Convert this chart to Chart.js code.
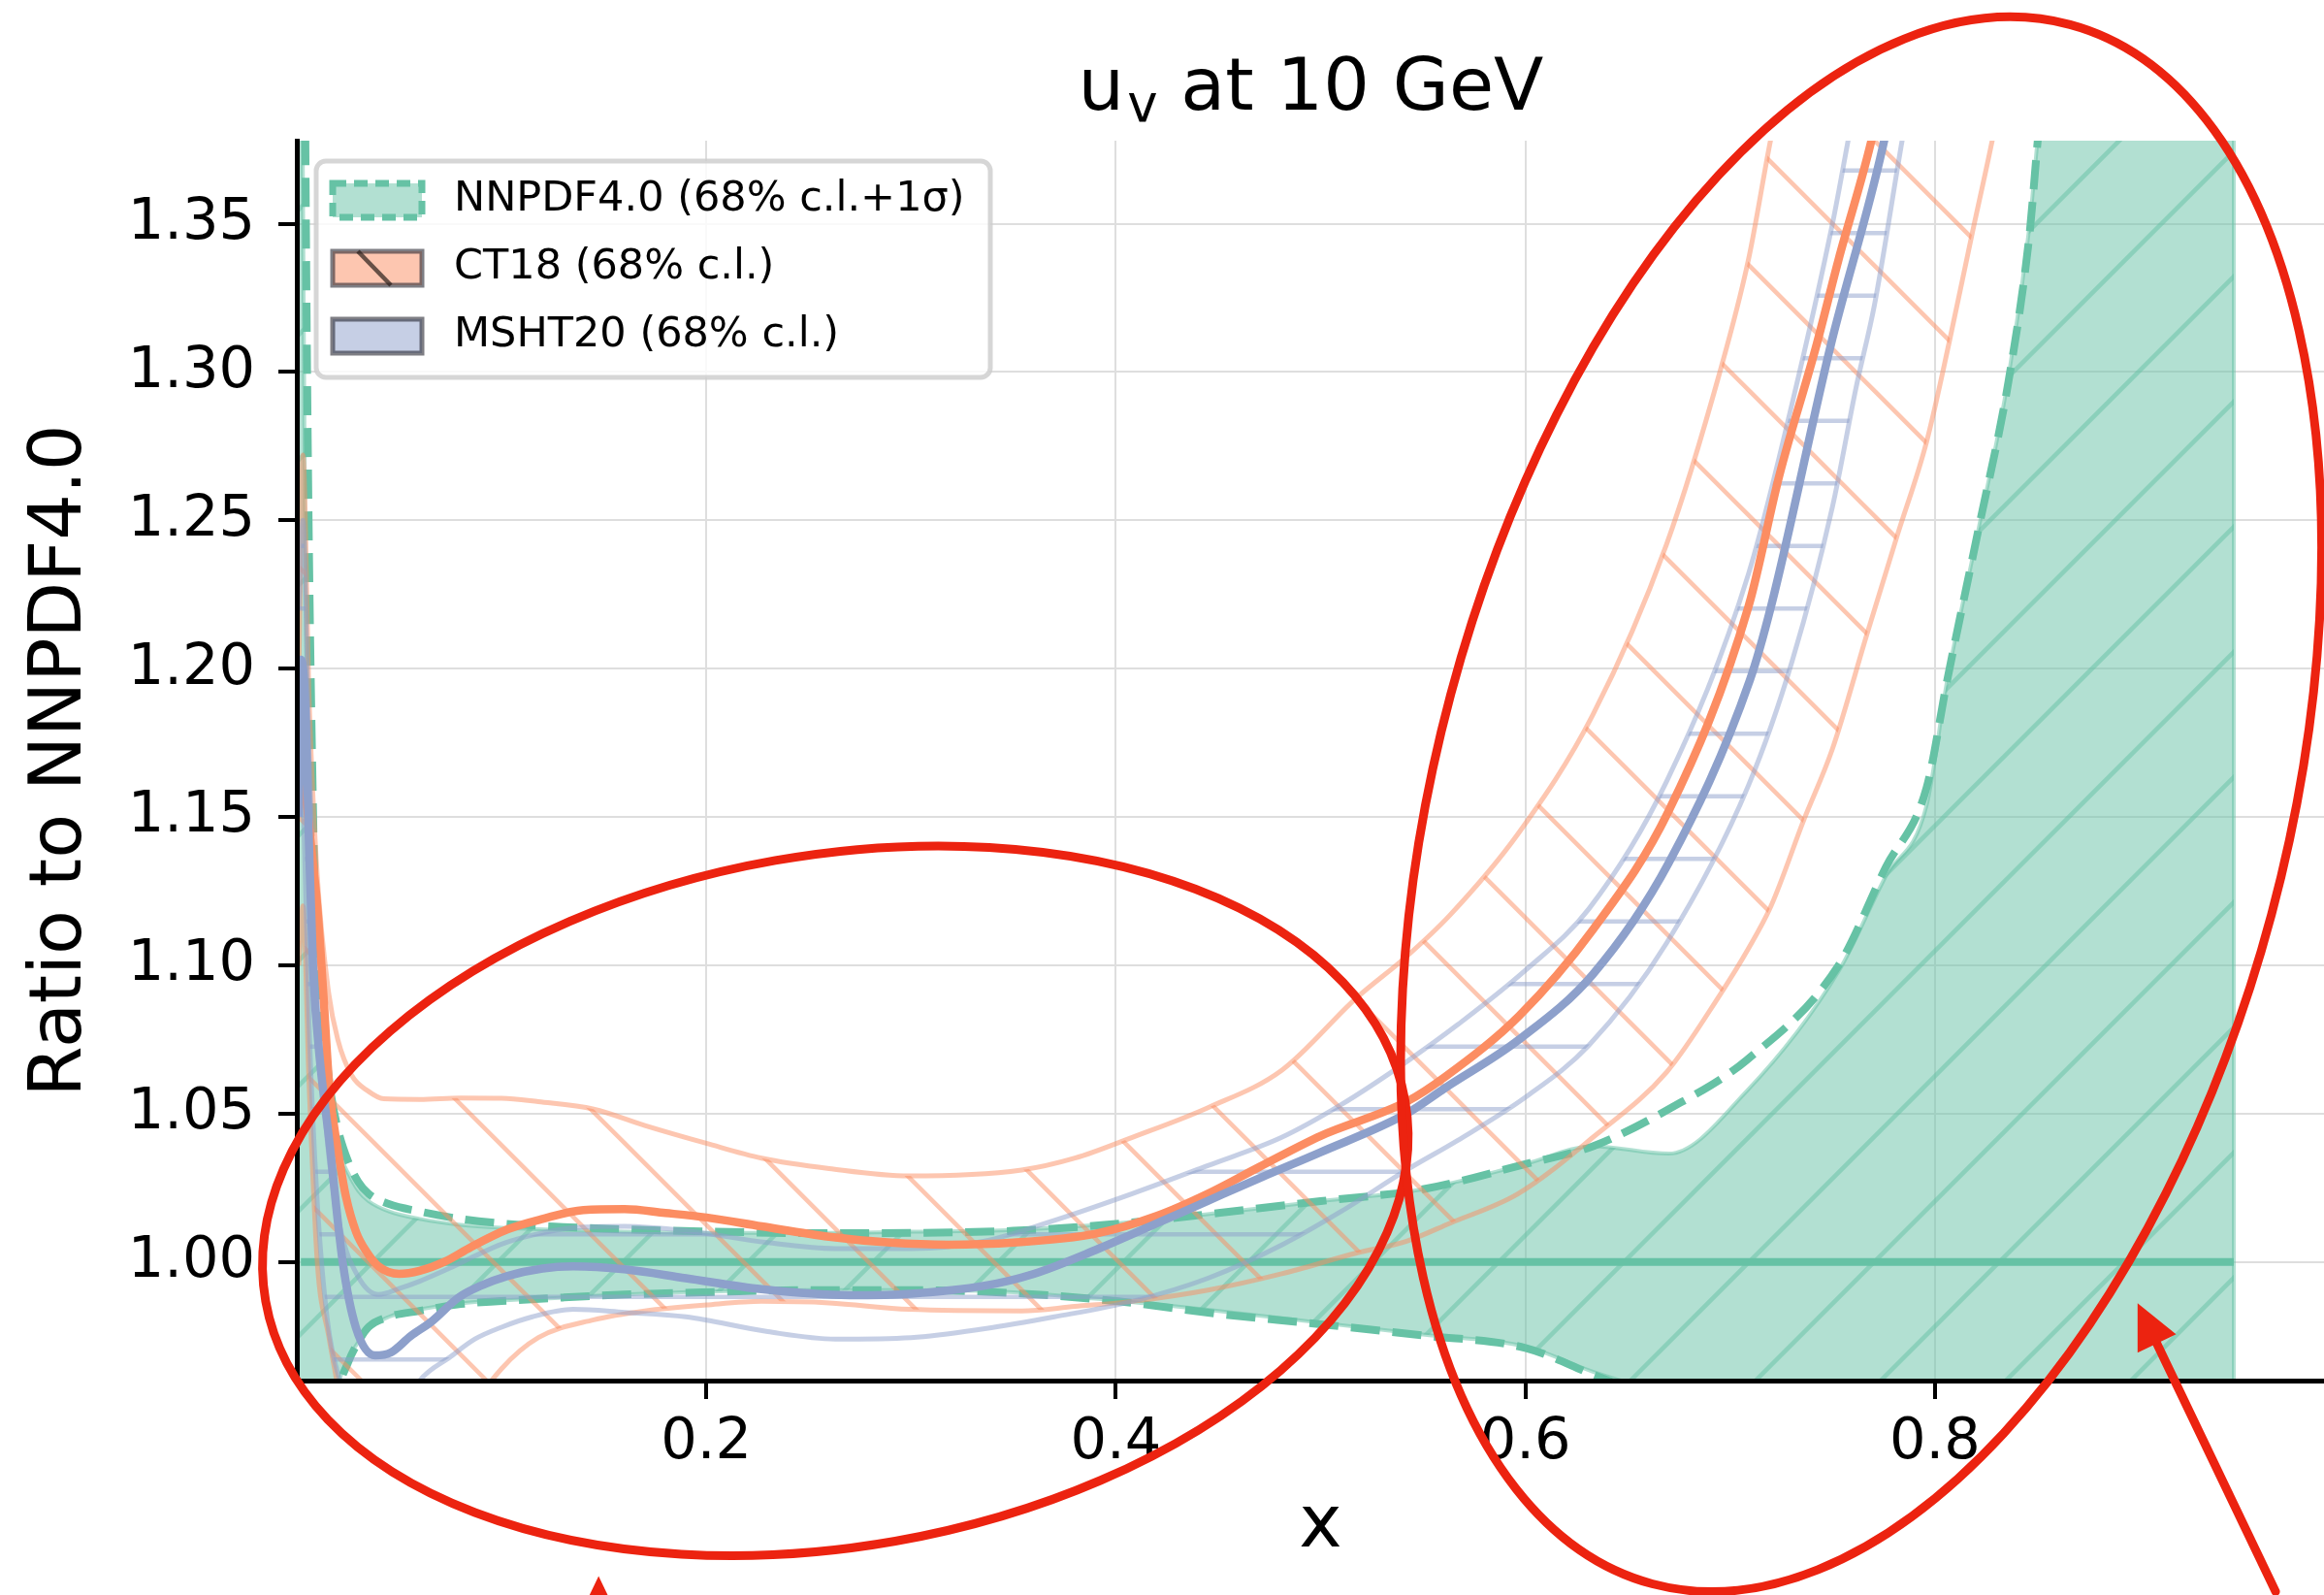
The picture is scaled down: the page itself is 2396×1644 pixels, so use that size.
<!DOCTYPE html>
<html>
<head>
<meta charset="utf-8">
<title>u_v at 10 GeV</title>
<script src="https://cdn.jsdelivr.net/npm/chart.js@4.4.1/dist/chart.umd.min.js"></script>
<style>
  html, body { margin: 0; padding: 0; background: #fff; overflow: hidden; }
  canvas { display: block; }
</style>
</head>
<body>
<canvas id="ratio-chart" width="2440" height="1644"></canvas>
<script>
// NNPDF4.0: 68% c.l. band (filled) and 1 sigma band (dashed), same x grid
const nnX = [0.001, 0.004, 0.008, 0.012, 0.016, 0.02, 0.025, 0.03, 0.035, 0.045, 0.06, 0.08, 0.1, 0.13, 0.16, 0.2, 0.25, 0.3, 0.35, 0.4, 0.45, 0.5, 0.55, 0.6, 0.633, 0.67, 0.708, 0.753, 0.776, 0.796, 0.806, 0.821, 0.836, 0.846, 0.852, 0.87, 0.9, 0.946];
const nnUp = [1.6, 1.25, 1.11, 1.07, 1.05, 1.038, 1.03, 1.024, 1.0205, 1.017, 1.0145, 1.0125, 1.0115, 1.0108, 1.0102, 1.0098, 1.0098, 1.0102, 1.0108, 1.013, 1.0165, 1.0205, 1.0245, 1.033, 1.039, 1.0365, 1.0575, 1.098, 1.13, 1.154, 1.196, 1.246, 1.2985, 1.348, 1.39, 1.45, 1.5, 1.55];
const nnLo = [0.5, 0.7, 0.85, 0.91, 0.94, 0.958, 0.967, 0.973, 0.9775, 0.9815, 0.984, 0.986, 0.987, 0.988, 0.989, 0.99, 0.9905, 0.9905, 0.9898, 0.987, 0.9835, 0.9795, 0.9755, 0.9715, 0.963, 0.955, 0.945, 0.93, 0.92, 0.91, 0.905, 0.9, 0.895, 0.89, 0.888, 0.88, 0.87, 0.85];
const sigUp = [1.9, 1.4, 1.15, 1.09, 1.06, 1.045, 1.034, 1.027, 1.023, 1.0195, 1.017, 1.0145, 1.013, 1.0118, 1.011, 1.0103, 1.0097, 1.0098, 1.0105, 1.0128, 1.0165, 1.0205, 1.0245, 1.033, 1.039, 1.0515, 1.068, 1.10, 1.133, 1.16, 1.196, 1.246, 1.297, 1.345, 1.39, 1.45, 1.5, 1.55];
const sigLo = [0.4, 0.6, 0.8, 0.89, 0.93, 0.955, 0.966, 0.973, 0.978, 0.9815, 0.9835, 0.9858, 0.9868, 0.988, 0.989, 0.9898, 0.9905, 0.9905, 0.9895, 0.9868, 0.9825, 0.979, 0.9752, 0.971, 0.962, 0.952, 0.94, 0.925, 0.915, 0.905, 0.9, 0.895, 0.89, 0.885, 0.882, 0.875, 0.865, 0.845];
const nnCx = [0.002, 0.946];
const nnC = [1.0, 1.0];

// CT18 central value and 68% c.l. band
const ctX = [0.002, 0.004, 0.007, 0.01, 0.013, 0.016, 0.02, 0.024, 0.029, 0.034, 0.04, 0.05, 0.06, 0.072, 0.085, 0.103, 0.12, 0.14, 0.16, 0.18, 0.2, 0.227, 0.26, 0.29, 0.318, 0.35, 0.39, 0.42, 0.445, 0.47, 0.5, 0.542, 0.561, 0.597, 0.633, 0.67, 0.709, 0.724, 0.742, 0.753, 0.769, 0.785];
const ctC = [1.17, 1.16, 1.14, 1.12, 1.09, 1.058, 1.038, 1.022, 1.010, 1.0035, 0.9985, 0.996, 0.997, 1.0, 1.005, 1.011, 1.0145, 1.0175, 1.0178, 1.0165, 1.015, 1.012, 1.0085, 1.0065, 1.0058, 1.0065, 1.0095, 1.0155, 1.023, 1.032, 1.0425, 1.054, 1.0625, 1.083, 1.112, 1.152, 1.221, 1.265, 1.3086, 1.338, 1.378, 1.43];
const ctbX = [0.001, 0.003, 0.006, 0.01, 0.0156, 0.02, 0.0267, 0.035, 0.0425, 0.06, 0.08, 0.1, 0.118, 0.145, 0.17, 0.2, 0.227, 0.26, 0.299, 0.354, 0.38, 0.408, 0.445, 0.481, 0.5175, 0.542, 0.563, 0.5965, 0.633, 0.669, 0.695, 0.709, 0.72, 0.736, 0.75, 0.767, 0.7815, 0.796, 0.807, 0.8177, 0.828, 0.84];
const ctUp = [1.2, 1.272, 1.19, 1.13, 1.0905, 1.075, 1.063, 1.0575, 1.055, 1.0548, 1.0553, 1.0552, 1.054, 1.0515, 1.046, 1.04, 1.035, 1.0315, 1.029, 1.031, 1.035, 1.042, 1.052, 1.0646, 1.089, 1.103, 1.1168, 1.1444, 1.1845, 1.242, 1.30, 1.338, 1.379, 1.43, 1.48, 1.53, 1.58, 1.62, 1.66, 1.7, 1.74, 1.8];
const ctLo = [1.10, 1.12, 1.06, 1.0, 0.975, 0.958, 0.93, 0.92, 0.915, 0.92, 0.945, 0.964, 0.9745, 0.9805, 0.9835, 0.9855, 0.9867, 0.9862, 0.984, 0.9835, 0.985, 0.9867, 0.9905, 0.996, 1.003, 1.007, 1.013, 1.023, 1.042, 1.064, 1.09, 1.1057, 1.12, 1.149, 1.173, 1.212, 1.2446, 1.2766, 1.31, 1.345, 1.378, 1.42];

// MSHT20 central value and 68% c.l. band
const msX = [0.001, 0.002, 0.004, 0.006, 0.008, 0.011, 0.016, 0.0224, 0.0288, 0.0382, 0.046, 0.0556, 0.066, 0.079, 0.09, 0.103, 0.12, 0.135, 0.16, 0.19, 0.227, 0.27, 0.3, 0.336, 0.36, 0.39, 0.42, 0.4446, 0.471, 0.5, 0.542, 0.5605, 0.597, 0.633, 0.67, 0.7096, 0.72, 0.749, 0.7746, 0.79];
const msC = [1.15, 1.203, 1.19, 1.14, 1.098, 1.07, 1.04, 1.0, 0.978, 0.9685, 0.9695, 0.975, 0.98, 0.988, 0.992, 0.9953, 0.9978, 0.9985, 0.9975, 0.9945, 0.9908, 0.9888, 0.9893, 0.992, 0.996, 1.004, 1.013, 1.0205, 1.0285, 1.037, 1.050, 1.0585, 1.075, 1.097, 1.1345, 1.196, 1.221, 1.3086, 1.376, 1.43];
const msbX = [0.001, 0.003, 0.006, 0.01, 0.015, 0.021, 0.03, 0.04, 0.05, 0.06, 0.075, 0.087, 0.1, 0.115, 0.135, 0.16, 0.19, 0.23, 0.263, 0.3, 0.336, 0.37, 0.408, 0.445, 0.481, 0.51, 0.542, 0.567, 0.6, 0.631, 0.669, 0.709, 0.7305, 0.75, 0.7615, 0.7706, 0.784, 0.8];
const msUp = [1.22, 1.25, 1.17, 1.09, 1.04, 1.012, 0.995, 0.989, 0.991, 0.9935, 0.998, 1.002, 1.006, 1.009, 1.0115, 1.012, 1.0105, 1.0065, 1.0045, 1.0045, 1.007, 1.014, 1.023, 1.0325, 1.042, 1.053, 1.0675, 1.08, 1.0983, 1.119, 1.162, 1.232, 1.29, 1.35, 1.392, 1.42, 1.47, 1.52];
const msLo = [1.18, 1.16, 1.08, 1.02, 0.98, 0.96, 0.945, 0.94, 0.948, 0.96, 0.968, 0.974, 0.978, 0.9815, 0.984, 0.983, 0.9815, 0.9765, 0.974, 0.9745, 0.9775, 0.9815, 0.9867, 0.9945, 1.0057, 1.017, 1.031, 1.041, 1.0555, 1.073, 1.1075, 1.1607, 1.203, 1.2546, 1.2947, 1.323, 1.378, 1.44];

// axes
const xTicks = [0.2, 0.4, 0.6, 0.8];
const yTicks = [1.00, 1.05, 1.10, 1.15, 1.20, 1.25, 1.30, 1.35];
const legendLabels = ["NNPDF4.0 (68% c.l.+1\u03c3)", "CT18 (68% c.l.)", "MSHT20 (68% c.l.)"];

// hand-drawn red marks on the figure, in data coordinates
const marks = [
  { type: "ellipse", x: 0.263, y: 1.0206, rx: 0.2825, ry: 0.1165, rot: -10 },
  { type: "ellipse", x: 0.764, y: 1.1543, rx: 0.2075, ry: 0.2721, rot: 15 },
  { type: "arrow", x0: 0.1474, y0: 0.85, x1: 0.1474, y1: 0.8941 },
  { type: "arrow", x0: 0.9664, y0: 0.8889, x1: 0.899, y1: 0.9861 },
];

const TEAL = "102,194,165";
const ORANGE = "252,141,98";
const BLUE = "141,160,203";
const FONT = "DejaVu Sans";

Chart.defaults.font.family = FONT;
Chart.defaults.color = "#000";

const pts = (xs, ys) => xs.map((x, i) => ({ x: x, y: ys[i] }));

// matplotlib-like hatch tiles (period 129 px)
function hatch(kind, bg, fg) {
  const c = document.createElement("canvas");
  c.width = 129;
  c.height = 129;
  const g = c.getContext("2d");
  if (bg) {
    g.fillStyle = bg;
    g.fillRect(0, 0, 129, 129);
  }
  g.strokeStyle = fg;
  g.lineWidth = 4.5;
  g.beginPath();
  if (kind === "/") {
    for (const k of [8 - 129, 8, 137, 266]) {
      g.moveTo(-20, k + 20);
      g.lineTo(149, k - 149);
    }
  } else if (kind === "\\") {
    for (const k of [110.7 - 258, 110.7 - 129, 110.7, 239.7]) {
      g.moveTo(-20, -20 - k);
      g.lineTo(149, 149 - k);
    }
  } else {
    for (const y of [46.7, 111.2]) {
      g.moveTo(0, y);
      g.lineTo(129, y);
    }
  }
  g.stroke();
  return g.createPattern(c, "repeat");
}

const tealHatch = hatch("/", `rgba(${TEAL},0.5)`, `rgba(${TEAL},0.5)`);
const orangeHatch = hatch("\\", null, `rgba(${ORANGE},0.5)`);
const blueHatch = hatch("-", null, `rgba(${BLUE},0.5)`);

const last = nnX.length - 1;

const datasets = [
  { label: "nn68 up", data: pts(nnX, nnUp), borderColor: `rgba(${TEAL},0.5)`, borderWidth: 4,
    fill: "+1", backgroundColor: tealHatch, order: 20 },
  { label: "nn68 lo", data: pts(nnX, nnLo), borderColor: `rgba(${TEAL},0.5)`, borderWidth: 4,
    fill: false, order: 19 },
  { label: "nn68 end", data: [{ x: nnX[last], y: nnLo[last] }, { x: nnX[last], y: nnUp[last] }],
    borderColor: `rgba(${TEAL},0.5)`, borderWidth: 4, fill: false, order: 19, cubicInterpolationMode: "default", tension: 0 },
  { label: "nn sigma up", data: pts(nnX, sigUp), borderColor: `rgb(${TEAL})`, borderWidth: 8,
    borderDash: [30, 13], fill: false, order: 18 },
  { label: "nn sigma lo", data: pts(nnX, sigLo), borderColor: `rgb(${TEAL})`, borderWidth: 8,
    borderDash: [30, 13], fill: false, order: 18 },
  { label: "NNPDF4.0", data: pts(nnCx, nnC), borderColor: `rgb(${TEAL})`, borderWidth: 8,
    fill: false, order: 17 },
  { label: "ct up", data: pts(ctbX, ctUp), borderColor: `rgba(${ORANGE},0.5)`, borderWidth: 5,
    fill: "+1", backgroundColor: orangeHatch, order: 12 },
  { label: "ct lo", data: pts(ctbX, ctLo), borderColor: `rgba(${ORANGE},0.5)`, borderWidth: 5,
    fill: false, order: 11 },
  { label: "ms up", data: pts(msbX, msUp), borderColor: `rgba(${BLUE},0.5)`, borderWidth: 5,
    fill: "+1", backgroundColor: blueHatch, order: 10 },
  { label: "ms lo", data: pts(msbX, msLo), borderColor: `rgba(${BLUE},0.5)`, borderWidth: 5,
    fill: false, order: 9 },
  { label: "CT18", data: pts(ctX, ctC), borderColor: `rgb(${ORANGE})`, borderWidth: 8.5,
    fill: false, order: 2 },
  { label: "MSHT20", data: pts(msX, msC), borderColor: `rgb(${BLUE})`, borderWidth: 8.5,
    fill: false, order: 1 },
];

// title with subscript, centred over the axes
const titlePlugin = {
  id: "mathTitle",
  afterDraw(chart) {
    const { ctx, chartArea } = chart;
    const big = `75px "${FONT}"`;
    const small = `53px "${FONT}"`;
    ctx.save();
    ctx.fillStyle = "#000";
    ctx.textBaseline = "alphabetic";
    ctx.textAlign = "left";
    ctx.font = big;
    const wU = ctx.measureText("u").width;
    const wRest = ctx.measureText(" at 10 GeV").width;
    ctx.font = small;
    const wV = ctx.measureText("v").width;
    const total = wU + 3 + wV + wRest;
    let x = (chartArea.left + chartArea.right) / 2 - total / 2 - 10;
    const base = 113;
    ctx.font = big;
    ctx.fillText("u", x, base);
    x += wU + 3;
    ctx.font = small;
    ctx.fillText("v", x, base + 12);
    x += wV;
    ctx.font = big;
    ctx.fillText(" at 10 GeV", x, base);
    ctx.restore();
  },
};

function roundRect(ctx, x, y, w, h, r) {
  ctx.beginPath();
  ctx.moveTo(x + r, y);
  ctx.arcTo(x + w, y, x + w, y + h, r);
  ctx.arcTo(x + w, y + h, x, y + h, r);
  ctx.arcTo(x, y + h, x, y, r);
  ctx.arcTo(x, y, x + w, y, r);
  ctx.closePath();
}

const legendPlugin = {
  id: "bandLegend",
  afterDraw(chart) {
    const { ctx, chartArea } = chart;
    const bx = chartArea.left + 20;
    const by = chartArea.top + 21;
    const bw = 695;
    const bh = 223;
    ctx.save();
    roundRect(ctx, bx, by, bw, bh, 10);
    ctx.fillStyle = "rgba(255,255,255,0.8)";
    ctx.fill();
    ctx.lineWidth = 5;
    ctx.strokeStyle = "rgba(204,204,204,0.8)";
    ctx.stroke();

    const hx = bx + 17;
    const hw = 92;
    const hh = 35;
    legendLabels.forEach((text, i) => {
      const hy = by + 23 + i * 70;
      if (i === 0) {
        ctx.fillStyle = `rgba(${TEAL},0.5)`;
        ctx.fillRect(hx, hy, hw, hh);
        ctx.setLineDash([14, 8]);
        ctx.lineWidth = 7;
        ctx.strokeStyle = `rgb(${TEAL})`;
        ctx.strokeRect(hx, hy, hw, hh);
        ctx.setLineDash([]);
      } else {
        ctx.fillStyle = i === 1 ? `rgba(${ORANGE},0.5)` : `rgba(${BLUE},0.5)`;
        ctx.fillRect(hx, hy, hw, hh);
        ctx.lineWidth = 5;
        ctx.strokeStyle = "rgba(40,40,50,0.6)";
        ctx.strokeRect(hx, hy, hw, hh);
        if (i === 1) {
          ctx.beginPath();
          ctx.moveTo(hx + 26, hy);
          ctx.lineTo(hx + 60, hy + hh);
          ctx.lineWidth = 4.5;
          ctx.strokeStyle = "rgba(40,30,25,0.7)";
          ctx.stroke();
        }
      }
      ctx.fillStyle = "#000";
      ctx.font = `43px "${FONT}"`;
      ctx.textBaseline = "alphabetic";
      ctx.fillText(text, bx + 142, hy + hh / 2 + 10);
    });
    ctx.restore();
  },
};

const marksPlugin = {
  id: "redMarks",
  afterDraw(chart) {
    const { ctx } = chart;
    const xs = chart.scales.x;
    const ys = chart.scales.y;
    ctx.save();
    ctx.strokeStyle = "#ec2310";
    ctx.fillStyle = "#ec2310";
    ctx.lineWidth = 9;
    ctx.lineCap = "round";
    marks.forEach((m) => {
      if (m.type === "ellipse") {
        const cx = xs.getPixelForValue(m.x);
        const cy = ys.getPixelForValue(m.y);
        const rx = Math.abs(xs.getPixelForValue(m.x + m.rx) - cx);
        const ry = Math.abs(ys.getPixelForValue(m.y + m.ry) - cy);
        ctx.beginPath();
        ctx.ellipse(cx, cy, rx, ry, (m.rot * Math.PI) / 180, 0, 2 * Math.PI);
        ctx.stroke();
      } else {
        const x0 = xs.getPixelForValue(m.x0);
        const y0 = ys.getPixelForValue(m.y0);
        const x1 = xs.getPixelForValue(m.x1);
        const y1 = ys.getPixelForValue(m.y1);
        const a = Math.atan2(y1 - y0, x1 - x0);
        const len = 46;
        const half = 22;
        const bxp = x1 - len * Math.cos(a);
        const byp = y1 - len * Math.sin(a);
        ctx.beginPath();
        ctx.moveTo(x0, y0);
        ctx.lineTo(bxp, byp);
        ctx.stroke();
        ctx.beginPath();
        ctx.moveTo(x1, y1);
        ctx.lineTo(bxp + half * Math.sin(a), byp - half * Math.cos(a));
        ctx.lineTo(bxp - half * Math.sin(a), byp + half * Math.cos(a));
        ctx.closePath();
        ctx.fill();
      }
    });
    ctx.restore();
  },
};

const ctx = document.getElementById("ratio-chart").getContext("2d");

new Chart(ctx, {
  type: "line",
  data: { datasets: datasets },
  options: {
    responsive: false,
    animation: false,
    devicePixelRatio: 1,
    layout: { padding: { left: 0, right: 23, top: 145, bottom: 0 } },
    elements: {
      point: { radius: 0 },
      line: { cubicInterpolationMode: "monotone", borderCapStyle: "butt" },
    },
    plugins: {
      legend: { display: false },
      tooltip: { enabled: false },
      title: { display: false },
    },
    scales: {
      x: {
        type: "linear",
        min: 0,
        max: 1,
        afterBuildTicks: (axis) => {
          axis.ticks = xTicks.map((v) => ({ value: v }));
        },
        afterFit: (axis) => {
          axis.height = 221;
        },
        ticks: {
          font: { size: 59, lineHeight: 1.2 },
          color: "#000",
          padding: 10,
          maxRotation: 0,
          autoSkip: false,
          callback: (v) => Number(v).toFixed(1),
        },
        grid: { color: "#dedede", lineWidth: 2, tickColor: "#000", tickLength: 19, tickWidth: 4 },
        border: { color: "#000", width: 5, z: 1 },
        title: { display: true, text: "x", font: { size: 75, lineHeight: 1.2 }, color: "#000",
                 padding: { top: 0, bottom: 24 } },
      },
      y: {
        type: "linear",
        min: 0.96,
        max: 1.378,
        afterBuildTicks: (axis) => {
          axis.ticks = yTicks.map((v) => ({ value: v }));
        },
        afterFit: (axis) => {
          axis.width = 306;
        },
        ticks: {
          font: { size: 59, lineHeight: 1.2 },
          color: "#000",
          padding: 24,
          autoSkip: false,
          callback: (v) => Number(v).toFixed(2),
        },
        grid: { color: "#dedede", lineWidth: 2, tickColor: "#000", tickLength: 19, tickWidth: 4 },
        border: { color: "#000", width: 5, z: 1 },
        title: { display: true, text: "Ratio to NNPDF4.0", font: { size: 75, lineHeight: 1.2 }, color: "#000",
                 padding: { top: 19, bottom: 0 } },
      },
    },
  },
  plugins: [titlePlugin, legendPlugin, marksPlugin],
});
</script>
</body>
</html>
